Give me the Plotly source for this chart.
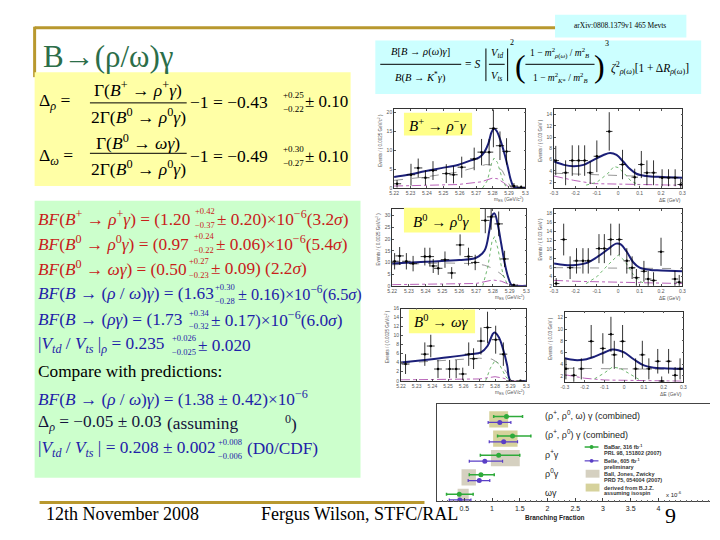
import plotly.graph_objects as go

W, H = 720, 540
SERIF = "Liberation Serif"
SANS = "Liberation Sans"
NB = "\u00a0"


def X(px):
    return px / W


def Y(py):
    return 1 - py / H


# ---------------- data: fit panels ----------------
# Panel 1: B+ -> rho+ gamma, mES
p1_x = [5.2218, 5.2303, 5.2347, 5.2391, 5.2437, 5.2518, 5.2562, 5.2612, 5.2688, 5.2733, 5.2779, 5.2805, 5.2845, 5.2885, 5.2930, 5.2974]
p1_y = [1.1, 3.5, 5.3, 2.7, 4.6, 3.8, 3.5, 5.5, 7.7, 9.5, 9.5, 15.8, 11.2, 9.7, 0.5, 0.2]
p1_ey = [1.0, 2.9, 2.5, 2.0, 2.5, 2.5, 2.3, 2.8, 3.0, 3.5, 3.5, 5.0, 3.8, 3.5, 0.8, 0.5]
p1_tot_x = [5.22, 5.2286, 5.2387, 5.2487, 5.2588, 5.2668, 5.2719, 5.2749, 5.2773, 5.2793, 5.2809, 5.2825, 5.2849, 5.2873, 5.2893, 5.2909, 5.2926, 5.294, 5.30]
p1_tot_y = [2.9, 3.5, 4.4, 5.25, 6.1, 7.3, 8.1, 9.45, 11.6, 14.7, 15.75, 15.1, 12.5, 9.0, 5.5, 2.45, 0.5, 0.1, 0.0]
p1_bkg_x = [5.22, 5.2387, 5.2588, 5.2688, 5.2759, 5.2819, 5.2859, 5.2889, 5.2909, 5.30]
p1_bkg_y = [2.0, 2.9, 4.2, 5.3, 6.2, 5.95, 4.6, 2.0, 0.26, 0.0]
p1_sig_x = [5.2739, 5.2769, 5.2793, 5.2809, 5.2829, 5.2859, 5.2879, 5.2899]
p1_sig_y = [0.0, 2.0, 6.4, 7.9, 6.8, 2.45, 0.5, 0.0]
p1_mag_x = [5.22, 5.2588, 5.2729, 5.2799, 5.2829, 5.2867, 5.2899, 5.30]
p1_mag_y = [0.5, 0.9, 1.6, 2.6, 2.45, 1.4, 0.26, 0.0]

# Panel 2: B+ -> rho+ gamma, Delta E
p2_x = [-0.292, -0.246, -0.215, -0.185, -0.157, -0.131, -0.100, -0.042, 0.020, 0.077, 0.108, 0.134, 0.165, 0.205, 0.235, 0.266, 0.292]
p2_y = [5.84, 3.68, 5.84, 5.84, 5.84, 3.68, 6.6, 11.0, 5.14, 2.9, 5.14, 3.68, 3.68, 2.8, 2.8, 2.8, 1.6]
p2_ey = [2.6, 2.2, 2.7, 2.7, 2.7, 2.0, 2.8, 3.4, 2.6, 1.5, 2.4, 2.2, 2.2, 1.5, 1.5, 1.5, 1.0]
p2_tot_x = [-0.30, -0.254, -0.208, -0.162, -0.115, -0.069, -0.038, -0.008, 0.023, 0.054, 0.085, 0.131, 0.208, 0.30]
p2_tot_y = [5.67, 5.08, 4.85, 5.08, 5.96, 6.83, 7.18, 6.83, 5.67, 4.38, 3.51, 3.1, 2.93, 2.81]
p2_bkg_x = [-0.30, 0.0, 0.30]
p2_bkg_y = [3.6, 3.2, 2.8]
p2_sig_x = [-0.15, -0.10, -0.05, -0.02, 0.0, 0.03, 0.06, 0.10]
p2_sig_y = [1.5, 2.0, 3.5, 4.8, 4.6, 3.5, 2.2, 1.5]
p2_mag_x = [-0.30, -0.208, -0.115, -0.023, 0.100, 0.30]
p2_mag_y = [3.1, 2.34, 1.76, 1.7, 1.58, 1.47]

# Panel 3: B0 -> rho0 gamma, mES
p3_x = [5.2215, 5.2245, 5.2285, 5.2325, 5.2395, 5.2425, 5.2445, 5.2475, 5.2515, 5.2555, 5.2605, 5.2655, 5.2695, 5.2755, 5.2790, 5.2835, 5.2870, 5.2925]
p3_y = [10.5, 12.8, 10.5, 9.5, 12.5, 12.5, 8.5, 7.5, 11.2, 5.5, 17.5, 12.5, 10.0, 28.0, 29.5, 26.5, 11.5, 0.3]
p3_ey = [3.5, 3.8, 3.5, 3.3, 3.8, 3.8, 3.0, 2.8, 3.5, 2.5, 4.5, 3.8, 3.3, 5.5, 5.5, 5.3, 3.5, 0.6]
p3_tot_x = [5.22, 5.24, 5.26, 5.27, 5.275, 5.278, 5.2795, 5.281, 5.283, 5.285, 5.287, 5.289, 5.291, 5.293, 5.30]
p3_tot_y = [9.5, 10.3, 11.0, 12.0, 15.0, 24.0, 30.0, 31.0, 26.0, 18.0, 10.0, 4.0, 0.5, 0.0, 0.0]
p3_bkg_x = [5.22, 5.25, 5.27, 5.275, 5.28, 5.285, 5.289, 5.291, 5.30]
p3_bkg_y = [9.0, 9.8, 9.5, 8.8, 7.5, 5.0, 2.0, 0.0, 0.0]
p3_sig_x = [5.274, 5.277, 5.2795, 5.281, 5.283, 5.286, 5.289]
p3_sig_y = [0.0, 8.0, 19.0, 21.0, 16.0, 5.0, 0.0]
p3_mag_x = [5.22, 5.27, 5.28, 5.285, 5.29, 5.30]
p3_mag_y = [0.5, 1.0, 2.5, 2.0, 0.5, 0.0]

# Panel 4: B0 -> rho0 gamma, Delta E
p4_x = [-0.290, -0.255, -0.225, -0.195, -0.165, -0.140, -0.090, -0.065, -0.035, 0.005, 0.040, 0.065, 0.085, 0.120, 0.140, 0.165, 0.200, 0.265, 0.285]
p4_y = [2.5, 12.2, 6.0, 7.5, 7.5, 7.5, 10.2, 10.2, 12.2, 12.2, 7.5, 6.0, 3.8, 5.2, 3.5, 3.2, 9.5, 3.5, 2.8]
p4_ey = [1.2, 3.5, 2.5, 2.8, 2.8, 2.8, 3.2, 3.2, 3.5, 3.5, 2.8, 2.5, 1.9, 2.3, 1.8, 1.8, 3.1, 1.8, 1.6]
p4_tot_x = [-0.30, -0.25, -0.20, -0.15, -0.10, -0.05, -0.01, 0.01, 0.04, 0.07, 0.10, 0.15, 0.20, 0.30]
p4_tot_y = [6.9, 6.6, 6.6, 7.0, 8.3, 10.0, 11.3, 11.2, 9.5, 7.2, 6.0, 5.5, 5.4, 5.2]
p4_bkg_x = [-0.30, 0.0, 0.30]
p4_bkg_y = [6.0, 5.9, 5.8]
p4_sig_x = [-0.15, -0.10, -0.05, 0.0, 0.03, 0.07, 0.10, 0.13]
p4_sig_y = [2.5, 4.0, 6.5, 8.8, 7.5, 4.5, 3.0, 2.4]
p4_mag_x = [-0.30, -0.20, 0.0, 0.30]
p4_mag_y = [3.2, 3.0, 2.8, 2.5]

# Panel 5: B0 -> omega gamma, mES
p5_x = [5.2229, 5.2352, 5.2390, 5.2436, 5.2510, 5.2552, 5.2594, 5.2632, 5.2663, 5.2710, 5.2752, 5.2804, 5.2853, 5.2895, 5.2962]
p5_y = [3.7, 5.9, 7.7, 2.6, 2.6, 2.6, 1.5, 5.9, 4.9, 8.8, 11.8, 9.1, 5.9, 0.0, 0.0]
p5_ey = [2.2, 2.6, 2.5, 2.0, 2.0, 2.0, 1.4, 2.6, 2.3, 3.0, 3.5, 3.1, 2.6, 0.0, 0.0]
p5_tot_x = [5.22, 5.2352, 5.25, 5.2646, 5.271, 5.2752, 5.2784, 5.2798, 5.2825, 5.2857, 5.2878, 5.29, 5.30]
p5_tot_y = [4.05, 4.6, 5.2, 5.9, 6.3, 7.7, 10.3, 10.7, 9.6, 6.3, 3.3, 0.0, 0.0]
p5_bkg_x = [5.22, 5.25, 5.27, 5.278, 5.284, 5.288, 5.29, 5.30]
p5_bkg_y = [3.9, 4.5, 5.0, 4.8, 3.5, 1.5, 0.0, 0.0]
p5_sig_x = [5.274, 5.277, 5.28, 5.283, 5.287, 5.29]
p5_sig_y = [0.0, 2.8, 4.5, 3.5, 0.8, 0.0]
p5_mag_x = [5.22, 5.27, 5.28, 5.285, 5.29, 5.30]
p5_mag_y = [0.2, 0.4, 0.9, 0.6, 0.0, 0.0]

# Panel 6: B0 -> omega gamma, Delta E
p6_x = [-0.295, -0.255, -0.217, -0.167, -0.108, -0.067, -0.050, -0.008, 0.058, 0.092, 0.125, 0.170, 0.190, 0.225, 0.258, 0.283]
p6_y = [3.2, 2.1, 3.2, 7.9, 6.7, 9.1, 5.6, 7.9, 3.2, 5.6, 3.2, 4.5, 1.1, 4.5, 2.1, 3.2]
p6_ey = [1.8, 1.4, 1.8, 2.8, 2.6, 3.0, 2.4, 2.8, 1.8, 2.4, 1.8, 2.1, 0.8, 2.1, 1.4, 1.8]
p6_tot_x = [-0.30, -0.25, -0.20, -0.15, -0.10, -0.06, -0.03, 0.0, 0.05, 0.10, 0.15, 0.20, 0.30]
p6_tot_y = [5.0, 4.7, 4.8, 5.3, 6.0, 6.5, 6.4, 6.0, 4.8, 3.8, 3.4, 3.3, 3.2]
p6_bkg_x = [-0.30, 0.0, 0.30]
p6_bkg_y = [3.3, 3.2, 3.1]
p6_sig_x = [-0.15, -0.10, -0.06, -0.02, 0.03, 0.08]
p6_sig_y = [1.5, 2.5, 3.5, 3.3, 2.3, 1.3]
p6_mag_x = [-0.30, -0.20, -0.10, 0.30]
p6_mag_y = [2.2, 1.6, 1.3, 1.1]

# ---------------- data: branching-fraction comparison ----------------
bf_labels = ["(ρ<sup>+</sup>, ρ<sup>0</sup>, ω) γ (combined)", "(ρ<sup>+</sup>, ρ<sup>0</sup>) γ (combined)",
             "ρ<sup>+</sup>γ", "ρ<sup>0</sup>γ", "ωγ"]
bf_row = [0, 1, 2, 3, 4]
babar_val = [1.26, 1.37, 1.12, 0.80, 0.41]
babar_lo = [0.23, 0.27, 0.33, 0.21, 0.23]
babar_hi = [0.29, 0.33, 0.38, 0.24, 0.25]
belle_val = [1.14, 1.21, 0.87, 0.77, 0.42]
belle_lo = [0.21, 0.26, 0.28, 0.20, 0.19]
belle_hi = [0.20, 0.25, 0.32, 0.19, 0.20]
theory_lo = [0.95, 1.02, 0.98, 0.45, 0.38]
theory_hi = [1.29, 1.46, 1.50, 0.71, 0.58]
theory_kind = ["derived", "derived", "bjz", "bjz", "bjz"]

# ---------------- figure ----------------
fig = go.Figure()
ann = []
shapes = []


def A(px, py, text, size, color="black", family=SERIF, xa="left", ya="middle", angle=0):
    ann.append(dict(x=X(px), y=Y(py), xref="paper", yref="paper", text=text, showarrow=False,
                    xanchor=xa, yanchor=ya, textangle=angle, borderpad=0,
                    font=dict(family=family, size=size, color=color)))


def RECT(x0, y0, x1, y1, fill, layer="below", line=None):
    shapes.append(dict(type="rect", xref="paper", yref="paper", x0=X(x0), x1=X(x1), y0=Y(y1), y1=Y(y0),
                       fillcolor=fill, line=dict(width=0) if line is None else line, layer=layer))


def LINE(x0, y0, x1, y1, color="black", width=1, layer="above"):
    shapes.append(dict(type="line", xref="paper", yref="paper", x0=X(x0), x1=X(x1), y0=Y(y0), y1=Y(y1),
                       line=dict(color=color, width=width), layer=layer))


def STACK(px, py, sup, sub, size, color):
    A(px, py - 7, sup, size, color)
    A(px, py + 7, sub, size, color)


GOLD = "#B8982E"
# decorative slide lines
LINE(30, 25, 562, 25, GOLD, 3, "below")
LINE(30, 24, 30, 75, GOLD, 3, "below")
LINE(35, 505, 425, 505, GOLD, 3, "below")

# boxes
RECT(557, 12, 690, 35, "#CCFFFF")
RECT(375, 38, 705, 92, "#CCFFFF")
RECT(30, 70, 350, 185, "#FFFFA6")
RECT(30, 200, 360, 480, "#CCFFCC")

A(623, 23, "arXiv:0808.1379v1 465 Mevts", 7.5, xa="center")
A(37, 54, "B→(ρ/ω)γ", 31, "#2C6E49")

# top-right formula
F = 10.5
A(421, 50, "<i>B</i>[<i>B</i> → <i>ρ</i>(<i>ω</i>)<i>γ</i>]", F, xa="center")
LINE(380, 62, 462, 62, "black", 1)
A(421, 75, "<i>B</i>(<i>B</i> → <i>K</i><sup>*</sup><i>γ</i>)", F, xa="center")
A(465, 62, "= <i>S</i>", F + 1)
LINE(487, 46, 487, 79, "black", 1)
LINE(509, 46, 509, 79, "black", 1)
A(498, 51, "<i>V<sub>td</sub></i>", F, xa="center")
LINE(490, 62, 506, 62, "black", 1)
A(498, 74, "<i>V<sub>ts</sub></i>", F, xa="center")
A(510, 40, "2", 8)
A(522, 64, "(", 32, xa="center")
A(562, 51, "1 − <i>m</i><sup>2</sup><sub><i>ρ</i>(<i>ω</i>)</sub> / <i>m</i><sup>2</sup><sub><i>B</i></sub>", 9.5, xa="center")
LINE(527, 62, 597, 62, "black", 1)
A(562, 75, "1 − <i>m</i><sup>2</sup><sub><i>K</i>*</sub> / <i>m</i><sup>2</sup><sub><i>B</i></sub>", 9.5, xa="center")
A(602, 64, ")", 32, xa="center")
A(607, 41, "3", 8)
A(613, 66, "<i>ζ</i><sup>2</sup><sub><i>ρ</i>(<i>ω</i>)</sub>[1 + Δ<i>R</i><sub><i>ρ</i>(<i>ω</i>)</sub>]", 11.5)

# yellow box formulas
S = 17.5
A(33, 100, "Δ<sub><i>ρ</i></sub> =", S)
A(135, 87, "Γ(<i>B</i><sup>+</sup> → <i>ρ</i><sup>+</sup><i>γ</i>)", S, xa="center")
LINE(86, 101, 184, 101, "black", 1)
A(135, 114, "2Γ(<i>B</i><sup>0</sup> → <i>ρ</i><sup>0</sup><i>γ</i>)", S, xa="center")
A(186, 100, "−1" + NB + "=" + NB + "−0.43", S)
STACK(280, 100, "+0.25", "−0.22", 9, "black")
A(303, 100, "± 0.10", 17)

A(33, 155, "Δ<sub><i>ω</i></sub> =", S)
A(135, 141, "Γ(<i>B</i><sup>0</sup> → <i>ωγ</i>)", S, xa="center")
LINE(86, 152, 184, 152, "black", 1)
A(135, 167, "2Γ(<i>B</i><sup>0</sup> → <i>ρ</i><sup>0</sup><i>γ</i>)", S, xa="center")
A(186, 155, "−1" + NB + "=" + NB + "−0.49", S)
STACK(280, 155, "+0.30", "−0.27", 9, "black")
A(303, 155, "± 0.10", 17)

# green box results
RED = "#C8201A"
BLUE = "#1E22A8"
G = 17.3
SS = 8.5
A(32, 217, "<i>BF</i>(<i>B</i><sup>+</sup> → <i>ρ</i><sup>+</sup><i>γ</i>) = (1.20", G, RED)
STACK(191, 217, "+0.42", "−0.37", SS, RED)
A(214, 217, "± 0.20)×10<sup>−6</sup>(3.2<i>σ</i>)", G, RED)

A(32, 243, "<i>BF</i>(<i>B</i><sup>0</sup> → <i>ρ</i><sup>0</sup><i>γ</i>) = (0.97", G, RED)
STACK(190, 243, "+0.24", "−0.22", SS, RED)
A(213, 243, "± 0.06)×10<sup>−6</sup>(5.4<i>σ</i>)", G, RED)

A(32, 268, "<i>BF</i>(<i>B</i><sup>0</sup> → <i>ωγ</i>) = (0.50", G, RED)
STACK(185, 268, "+0.27", "−0.23", SS, RED)
A(208, 268, "± 0.09) (2.2<i>σ</i>)", G, RED)

A(32, 294, "<i>BF</i>(<i>B</i> → (<i>ρ</i> / <i>ω</i>)<i>γ</i>) = (1.63", G, BLUE)
STACK(212, 294, "+0.30", "−0.28", SS, BLUE)
A(235, 294, "± 0.16)×10<sup>−6</sup>(6.5<i>σ</i>)", 16.3, BLUE)

A(32, 320, "<i>BF</i>(<i>B</i> → (<i>ργ</i>) = (1.73", G, BLUE)
STACK(185, 320, "+0.34", "−0.32", SS, BLUE)
A(208, 320, "± 0.17)×10<sup>−6</sup>(6.0<i>σ</i>)", G, BLUE)

A(32, 346, "|<i>V<sub>td</sub></i>" + NB + "/" + NB + "<i>V<sub>ts</sub></i>" + NB + "|<sub><i>ρ</i></sub>"
    + NB + "=" + NB + "0.235", G, BLUE)
STACK(168, 346, "+0.026", "−0.025", SS, BLUE)
A(194, 346, "± 0.020", G, BLUE)

A(32, 373, "Compare with predictions:", G, "black")
A(32, 399, "<i>BF</i>(<i>B</i> → (<i>ρ</i> / <i>ω</i>)<i>γ</i>) = (1.38 ± 0.42)×10<sup>−6</sup>", G, BLUE)
A(32, 425, "Δ<sub><i>ρ</i></sub> = −0.05 ± 0.03", G, "#14143C")
A(163, 425, "(assuming", G, "#14143C")
A(283, 425, "<sup>0</sup>)", G, "#14143C")
A(32, 451, "|<i>V<sub>td</sub></i>" + NB + "/" + NB + "<i>V<sub>ts</sub></i>" + NB + "|" + NB + "="
    + NB + "0.208 ± 0.002", G, BLUE)
STACK(215, 451, "+0.008", "−0.006", SS, BLUE)
A(244, 451, "(D0/CDF)", G, BLUE)

# ---------------- fit panels ----------------
panels = [
    dict(d=(394, 527, 107, 187), kind="mes", yr=[0, 21], dt=5,
         data=(p1_x, p1_y, p1_ey), tot=(p1_tot_x, p1_tot_y), bkg=(p1_bkg_x, p1_bkg_y),
         sig=(p1_sig_x, p1_sig_y), mag=(p1_mag_x, p1_mag_y)),
    dict(d=(556, 686, 107, 187), kind="de", yr=[1, 15], dt=2,
         data=(p2_x, p2_y, p2_ey), tot=(p2_tot_x, p2_tot_y), bkg=(p2_bkg_x, p2_bkg_y),
         sig=(p2_sig_x, p2_sig_y), mag=(p2_mag_x, p2_mag_y)),
    dict(d=(392, 528, 208, 286), kind="mes", yr=[0, 33], dt=5,
         data=(p3_x, p3_y, p3_ey), tot=(p3_tot_x, p3_tot_y), bkg=(p3_bkg_x, p3_bkg_y),
         sig=(p3_sig_x, p3_sig_y), mag=(p3_mag_x, p3_mag_y)),
    dict(d=(556, 686, 208, 286), kind="de", yr=[2, 19], dt=2,
         data=(p4_x, p4_y, p4_ey), tot=(p4_tot_x, p4_tot_y), bkg=(p4_bkg_x, p4_bkg_y),
         sig=(p4_sig_x, p4_sig_y), mag=(p4_mag_x, p4_mag_y)),
    dict(d=(401, 528, 309, 382), kind="mes", yr=[0, 16], dt=2,
         data=(p5_x, p5_y, p5_ey), tot=(p5_tot_x, p5_tot_y), bkg=(p5_bkg_x, p5_bkg_y),
         sig=(p5_sig_x, p5_sig_y), mag=(p5_mag_x, p5_mag_y)),
    dict(d=(567, 687, 312, 383), kind="de", yr=[1, 13], dt=2,
         data=(p6_x, p6_y, p6_ey), tot=(p6_tot_x, p6_tot_y), bkg=(p6_bkg_x, p6_bkg_y),
         sig=(p6_sig_x, p6_sig_y), mag=(p6_mag_x, p6_mag_y)),
]

layout_axes = {}
TICKF = dict(family=SANS, size=5, color="#555555")
for i, p in enumerate(panels, start=1):
    sfx = "" if i == 1 else str(i)
    xa, ya = "x" + sfx, "y" + sfx
    x0, x1, y0, y1 = p["d"]
    if p["kind"] == "mes":
        xr = [5.22, 5.30]
        xtv = [5.22, 5.23, 5.24, 5.25, 5.26, 5.27, 5.28, 5.29, 5.30]
        xtt = ["5.22", "5.23", "5.24", "5.25", "5.26", "5.27", "5.28", "5.29", "5.3"]
        exw = 0.0025
        xtitle = "m<sub>ES</sub> (GeV/c<sup>2</sup>)"
        ytitle = "Events / ( 0.0025 GeV/c<sup>2</sup> )"
    else:
        xr = [-0.3, 0.3]
        xtv = [-0.3, -0.2, -0.1, 0, 0.1, 0.2, 0.3]
        xtt = ["-0.3", "-0.2", "-0.1", "0", "0.1", "0.2", "0.3"]
        exw = 0.015
        xtitle = "ΔE (GeV)"
        ytitle = "Events / ( 0.03 GeV )"
    layout_axes["xaxis" + sfx] = dict(domain=[X(x0), X(x1)], anchor=ya, range=xr, tickvals=xtv, ticktext=xtt,
                                      showline=True, linecolor="#333", linewidth=0.8, mirror="ticks",
                                      ticks="inside", ticklen=2, tickcolor="#555", tickfont=TICKF,
                                      showgrid=False, zeroline=False)
    layout_axes["yaxis" + sfx] = dict(domain=[Y(y1), Y(y0)], anchor=xa, range=p["yr"], dtick=p["dt"],
                                      showline=True, linecolor="#333", linewidth=0.8, mirror="ticks",
                                      ticks="inside", ticklen=2, tickcolor="#555", tickfont=TICKF,
                                      showgrid=False, zeroline=False)
    A(x1, y1 + 12, xtitle, 5, "#555", SANS, xa="right")
    A(x0 - 14, (y0 + y1) / 2 - 8, ytitle, 4.5, "#555", SANS, xa="center", angle=-90)

    mx, my = p["mag"]
    bx, by = p["bkg"]
    gx, gy = p["sig"]
    tx, ty = p["tot"]
    fig.add_trace(go.Scatter(x=mx, y=my, mode="lines", xaxis=xa, yaxis=ya, showlegend=False,
                             line=dict(color="#B050B0", width=0.9, dash="dashdot"), hoverinfo="skip"))
    fig.add_trace(go.Scatter(x=bx, y=by, mode="lines", xaxis=xa, yaxis=ya, showlegend=False,
                             line=dict(color="#8A8A8A", width=0.9, dash="dash"), hoverinfo="skip"))
    fig.add_trace(go.Scatter(x=gx, y=gy, mode="lines", xaxis=xa, yaxis=ya, showlegend=False,
                             line=dict(color="#5FAF5F", width=0.9, dash="dot"), hoverinfo="skip"))
    fig.add_trace(go.Scatter(x=tx, y=ty, mode="lines", xaxis=xa, yaxis=ya, showlegend=False,
                             line=dict(color="#1B1F78", width=2, shape="spline"), hoverinfo="skip"))
    dx, dy, dey = p["data"]
    fig.add_trace(go.Scatter(x=dx, y=dy, mode="markers", xaxis=xa, yaxis=ya, showlegend=False,
                             marker=dict(color="black", size=2.5),
                             error_x=dict(type="constant", value=exw, color="black", thickness=0.8, width=0),
                             error_y=dict(type="data", array=dey, color="black", thickness=0.8, width=0)))

# decay labels on the fit panels
RECT(404, 111, 473, 134, "#FFFF88", "above")
A(438, 123, "<i>B</i><sup>+</sup> → <i>ρ</i><sup>−</sup><i>γ</i>", 15, xa="center")
RECT(404, 207, 481, 232, "#FFFF88", "above")
A(442, 220, "<i>B</i><sup>0</sup> → <i>ρ</i><sup>0</sup><i>γ</i>", 15, xa="center")
RECT(409, 310, 476, 334, "#FFFF88", "above")
A(442, 322, "<i>B</i><sup>0</sup> → <i>ωγ</i>", 15, xa="center")

# ---------------- branching fraction comparison ----------------
RECT(425, 404, 720, 540, "white", "below")
bf_y = [-r for r in bf_row]
derived_idx = [i for i, k in enumerate(theory_kind) if k == "derived"]
bjz_idx = [i for i, k in enumerate(theory_kind) if k == "bjz"]
for idx, col in ((derived_idx, "#D6D29C"), (bjz_idx, "#D5D0C0")):
    fig.add_trace(go.Bar(orientation="h", y=[bf_y[i] for i in idx],
                         x=[theory_hi[i] - theory_lo[i] for i in idx],
                         base=[theory_lo[i] for i in idx], width=0.84,
                         marker=dict(color=col, line=dict(width=0)), xaxis="x7", yaxis="y7",
                         showlegend=False, hoverinfo="skip"))
fig.add_trace(go.Scatter(x=babar_val, y=[v + 0.14 for v in bf_y], mode="markers", xaxis="x7", yaxis="y7",
                         marker=dict(color="#2EAA3A", size=5), showlegend=False,
                         error_x=dict(type="data", array=babar_hi, arrayminus=babar_lo, color="#2EAA3A",
                                      thickness=1.5, width=1.5)))
fig.add_trace(go.Scatter(x=belle_val, y=[v - 0.16 for v in bf_y], mode="markers", xaxis="x7", yaxis="y7",
                         marker=dict(color="#5A3FC6", size=5), showlegend=False,
                         error_x=dict(type="data", array=belle_hi, arrayminus=belle_lo, color="#5A3FC6",
                                      thickness=1.2, width=1.5)))

layout_axes["xaxis7"] = dict(domain=[X(437), X(714)], anchor="y7", range=[0, 4.93],
                             tickvals=[0.5, 1, 1.5, 2, 2.5, 3, 3.5, 4],
                             ticktext=["0.5", "1", "1.5", "2", "2.5", "3", "3.5", "4"],
                             showline=True, linecolor="#444", linewidth=0.8, mirror=True,
                             ticks="inside", ticklen=4, tickcolor="#444",
                             minor=dict(ticks="inside", ticklen=2, dtick=0.1, tickcolor="#666"),
                             tickfont=dict(family=SANS, size=7, color="#222"), showgrid=False, zeroline=False)
layout_axes["yaxis7"] = dict(domain=[Y(504), Y(406)], anchor="x7", range=[-4.235, 0.765],
                             showline=True, linecolor="#444", linewidth=0.8, showticklabels=False,
                             ticks="", showgrid=False, zeroline=False)

for lab, yv in zip(bf_labels, bf_y):
    ann.append(dict(x=1.91, y=yv + 0.22, xref="x7", yref="y7", text=lab, showarrow=False, xanchor="left",
                    yanchor="middle", font=dict(family=SANS, size=9, color="#222")))

A(557, 521, "<b>Branching Fraction</b>", 6.5, "#222", SANS, xa="center")
A(668, 497, "x 10<sup>-6</sup>", 6, "#222", SANS)

# legend of the comparison plot
LEGF = 5.5
LINE(587, 449, 601, 449, "#2EAA3A", 1.5)
shapes.append(dict(type="circle", xref="paper", yref="paper", x0=X(592), x1=X(596), y0=Y(451), y1=Y(447),
                   fillcolor="#2EAA3A", line=dict(width=0)))
A(606, 449, "<b>BaBar, 316 fb<sup>-1</sup></b>", LEGF, "#333", SANS)
A(606, 455, "<b>PRL 98, 151802 (2007)</b>", LEGF, "#333", SANS)
LINE(587, 463, 601, 463, "#5A3FC6", 1.2)
shapes.append(dict(type="circle", xref="paper", yref="paper", x0=X(592), x1=X(596), y0=Y(465), y1=Y(461),
                   fillcolor="#5A3FC6", line=dict(width=0)))
A(606, 463, "<b>Belle, 605 fb<sup>-1</sup></b>", LEGF, "#333", SANS)
A(606, 469, "<b>preliminary</b>", LEGF, "#333", SANS)
RECT(588, 472, 602, 480, "#D5D0C0", "above")
A(606, 476, "<b>Ball, Jones, Zwicky</b>", LEGF, "#333", SANS)
A(606, 482, "<b>PRD 75, 054004 (2007)</b>", LEGF, "#333", SANS)
RECT(588, 486, 602, 494, "#D6D29C", "above")
A(606, 490, "<b>derived from B.J.Z.</b>", LEGF, "#333", SANS)
A(606, 496, "<b>assuming isospin</b>", LEGF, "#333", SANS)

# footer
A(40, 517, "12th November 2008", 18)
A(258, 517, "Fergus Wilson, STFC/RAL", 18)
A(667, 518, "9", 22)

fig.update_layout(width=W, height=H, margin=dict(l=0, r=0, t=0, b=0),
                  paper_bgcolor="white", plot_bgcolor="rgba(0,0,0,0)",
                  annotations=ann, shapes=shapes, barmode="overlay", **layout_axes)
fig.write_html("out.html", config={"displayModeBar": False},
               post_script="document.body.style.margin='0px';document.body.style.overflow='hidden';")
